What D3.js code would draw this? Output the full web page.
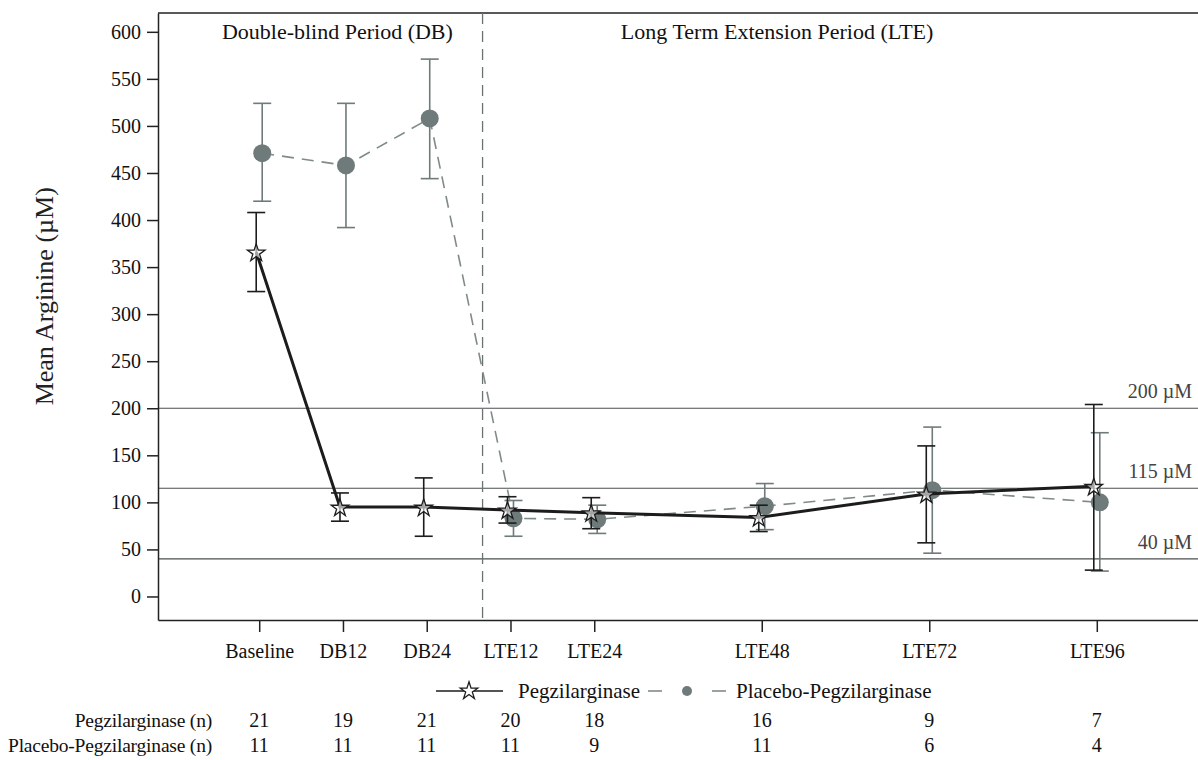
<!DOCTYPE html>
<html>
<head>
<meta charset="utf-8">
<script src="https://cdn.jsdelivr.net/npm/d3@7"></script>
<style>
  body { margin: 0; background: #fff; }
  svg { display: block; font-family: "Liberation Serif", "Times New Roman", serif; }
  .axis path, .axis line { stroke: #222; }
  .axis text { font-family: "Liberation Serif", serif; fill: #111; }
</style>
</head>
<body>
<script>
const width = 1198;
const height = 760;

const margin = { left: 158, right: 0, top: 13, bottom: 140 };

// visits and their week positions
const visits = ["Baseline", "DB12", "DB24", "LTE12", "LTE24", "LTE48", "LTE72", "LTE96"];
const visitWeeks = [0, 12, 24, 36, 48, 72, 96, 120];

// Pegzilarginase group
const pegMean  = [366, 95, 95, 92, 89, 84, 109, 117];
const pegLower = [324, 80, 64, 78, 72, 69, 57, 28];
const pegUpper = [408, 110, 126, 106, 105, 97, 160, 204];

// Placebo-Pegzilarginase group
const plaMean  = [471, 458, 508, 83, 82, 96, 113, 100];
const plaLower = [420, 392, 444, 64, 67, 71, 46, 27];
const plaUpper = [524, 524, 571, 102, 97, 120, 180, 174];

// patients per visit
const pegN = [21, 19, 21, 20, 18, 16, 9, 7];
const plaN = [11, 11, 11, 11, 9, 11, 6, 4];

const yTicks = [0, 50, 100, 150, 200, 250, 300, 350, 400, 450, 500, 550, 600];
const refLines = [200, 115, 40];
const refLabels = ["200 \u00b5M", "115 \u00b5M", "40 \u00b5M"];
const periodBreak = 32;

const pegColor = "#1c1c1c";
const plaColor = "#6f7a7a";

let svg = d3.select("body").append("svg")
    .attr("width", width)
    .attr("height", height);

let xScale = d3.scaleLinear()
    .domain([-14.5, 134.5])
    .range([margin.left, width - margin.right]);

let yScale = d3.scaleLinear()
    .domain([-25, 620])
    .range([height - margin.bottom, margin.top]);

// frame top line
svg.append("line")
    .attr("x1", margin.left).attr("x2", width)
    .attr("y1", margin.top).attr("y2", margin.top)
    .attr("stroke", "#222").attr("stroke-width", 1.5);

// reference lines
refLines.forEach((v, i) => {
    svg.append("line")
        .attr("x1", margin.left).attr("x2", width)
        .attr("y1", yScale(v)).attr("y2", yScale(v))
        .attr("stroke", "#4a4f4f").attr("stroke-width", 1.2);
    svg.append("text")
        .attr("x", 1192)
        .attr("y", yScale(v) - 10)
        .attr("text-anchor", "end")
        .style("font-size", "20px")
        .attr("fill", "#444")
        .text(refLabels[i]);
});

// period separator
svg.append("line")
    .attr("x1", xScale(periodBreak)).attr("x2", xScale(periodBreak))
    .attr("y1", margin.top).attr("y2", height - margin.bottom)
    .attr("stroke", "#6a7272").attr("stroke-width", 1.3)
    .attr("stroke-dasharray", "11,7");

svg.append("text")
    .attr("x", xScale(11.2)).attr("y", 39)
    .attr("text-anchor", "middle")
    .style("font-size", "22px").attr("fill", "#111")
    .text("Double-blind Period (DB)");

svg.append("text")
    .attr("x", xScale(74.2)).attr("y", 39)
    .attr("text-anchor", "middle")
    .style("font-size", "22px").attr("fill", "#111")
    .text("Long Term Extension Period (LTE)");

// axes
let xAxis = svg.append("g")
    .attr("class", "axis axis--x")
    .attr("transform", "translate(0," + (height - margin.bottom) + ")")
    .call(d3.axisBottom(xScale)
        .tickValues(visitWeeks)
        .tickFormat((d, i) => visits[i])
        .tickSize(12)
        .tickSizeOuter(0)
        .tickPadding(12));
xAxis.select(".domain").attr("stroke-width", 1.5);
xAxis.selectAll(".tick line").attr("stroke-width", 1.5);
xAxis.selectAll("text").style("font-size", "20px");

let yAxis = svg.append("g")
    .attr("class", "axis axis--y")
    .attr("transform", "translate(" + margin.left + ",0)")
    .call(d3.axisLeft(yScale)
        .tickValues(yTicks)
        .tickSize(11)
        .tickSizeOuter(0)
        .tickPadding(6));
yAxis.select(".domain").attr("stroke-width", 1.5);
yAxis.selectAll(".tick line").attr("stroke-width", 1.5);
yAxis.selectAll("text").style("font-size", "20px");

svg.append("text")
    .attr("transform", "translate(53," + yScale(319) + ") rotate(-90)")
    .attr("text-anchor", "middle")
    .style("font-size", "26px").attr("fill", "#222")
    .text("Mean Arginine (\u00b5M)");

// build series
const series = [
    { name: "Placebo-Pegzilarginase", mean: plaMean, lo: plaLower, hi: plaUpper, shift: 3, color: plaColor },
    { name: "Pegzilarginase", mean: pegMean, lo: pegLower, hi: pegUpper, shift: -3, color: pegColor }
];

const star = d3.symbol().type(d3.symbolStar).size(95);

series.forEach(s => {
    let pts = visitWeeks.map((w, i) => ({ x: xScale(w) + s.shift, mean: s.mean[i], lo: s.lo[i], hi: s.hi[i] }));
    let g = svg.append("g");
    let isPeg = s.name === "Pegzilarginase";

    // error bars
    let eb = g.selectAll(".eb").data(pts).enter().append("g");
    eb.append("line")
        .attr("x1", d => d.x).attr("x2", d => d.x)
        .attr("y1", d => yScale(d.lo)).attr("y2", d => yScale(d.hi))
        .attr("stroke", s.color).attr("stroke-width", 1.6);
    [d => d.lo, d => d.hi].forEach(f => {
        eb.append("line")
            .attr("x1", d => d.x - 9).attr("x2", d => d.x + 9)
            .attr("y1", d => yScale(f(d))).attr("y2", d => yScale(f(d)))
            .attr("stroke", s.color).attr("stroke-width", 1.6);
    });

    g.append("path")
        .datum(pts)
        .attr("fill", "none")
        .attr("stroke", isPeg ? pegColor : "#808a8a")
        .attr("stroke-width", isPeg ? 3 : 1.6)
        .attr("stroke-dasharray", isPeg ? null : "12,8")
        .attr("d", d3.line().x(d => d.x).y(d => yScale(d.mean)));

    if (isPeg) {
        g.selectAll(".pt").data(pts).enter().append("path")
            .attr("transform", d => `translate(${d.x},${yScale(d.mean) + 1})`)
            .attr("d", star)
            .attr("fill", "white").attr("fill-opacity", 0.6)
            .attr("stroke", pegColor).attr("stroke-width", 1.3);
    } else {
        g.selectAll(".pt").data(pts).enter().append("circle")
            .attr("cx", d => d.x).attr("cy", d => yScale(d.mean))
            .attr("r", 9)
            .attr("fill", plaColor);
    }
});

// legend
let legend = svg.append("g").attr("transform", "translate(0,691)");
legend.append("line").attr("x1", 436).attr("x2", 503).attr("y1", 0).attr("y2", 0)
    .attr("stroke", pegColor).attr("stroke-width", 1.6);
legend.append("path").attr("transform", "translate(469,0)").attr("d", star)
    .attr("fill", "white").attr("stroke", pegColor).attr("stroke-width", 1.3);
legend.append("text").attr("x", 518).attr("y", 7).style("font-size", "21px").attr("fill", "#111")
    .text("Pegzilarginase");
[[648, 662], [712, 726]].forEach(seg => {
    legend.append("line").attr("x1", seg[0]).attr("x2", seg[1]).attr("y1", 0).attr("y2", 0)
        .attr("stroke", "#808a8a").attr("stroke-width", 1.6);
});
legend.append("circle").attr("cx", 687).attr("cy", 0).attr("r", 5).attr("fill", plaColor);
legend.append("text").attr("x", 736).attr("y", 7).style("font-size", "21px").attr("fill", "#111")
    .text("Placebo-Pegzilarginase");

// n table
const rows = [
    { label: "Pegzilarginase (n)", values: pegN, y: 727 },
    { label: "Placebo-Pegzilarginase (n)", values: plaN, y: 752 }
];
rows.forEach(r => {
    svg.append("text").attr("x", 212).attr("y", r.y)
        .attr("text-anchor", "end").style("font-size", "19.5px")
        .style("letter-spacing", "-0.2px").attr("fill", "#111")
        .text(r.label);
    svg.selectAll(null).data(r.values).enter().append("text")
        .attr("x", (d, i) => xScale(visitWeeks[i]))
        .attr("y", r.y)
        .attr("text-anchor", "middle").style("font-size", "20px").attr("fill", "#111")
        .text(d => d);
});
</script>
</body>
</html>
